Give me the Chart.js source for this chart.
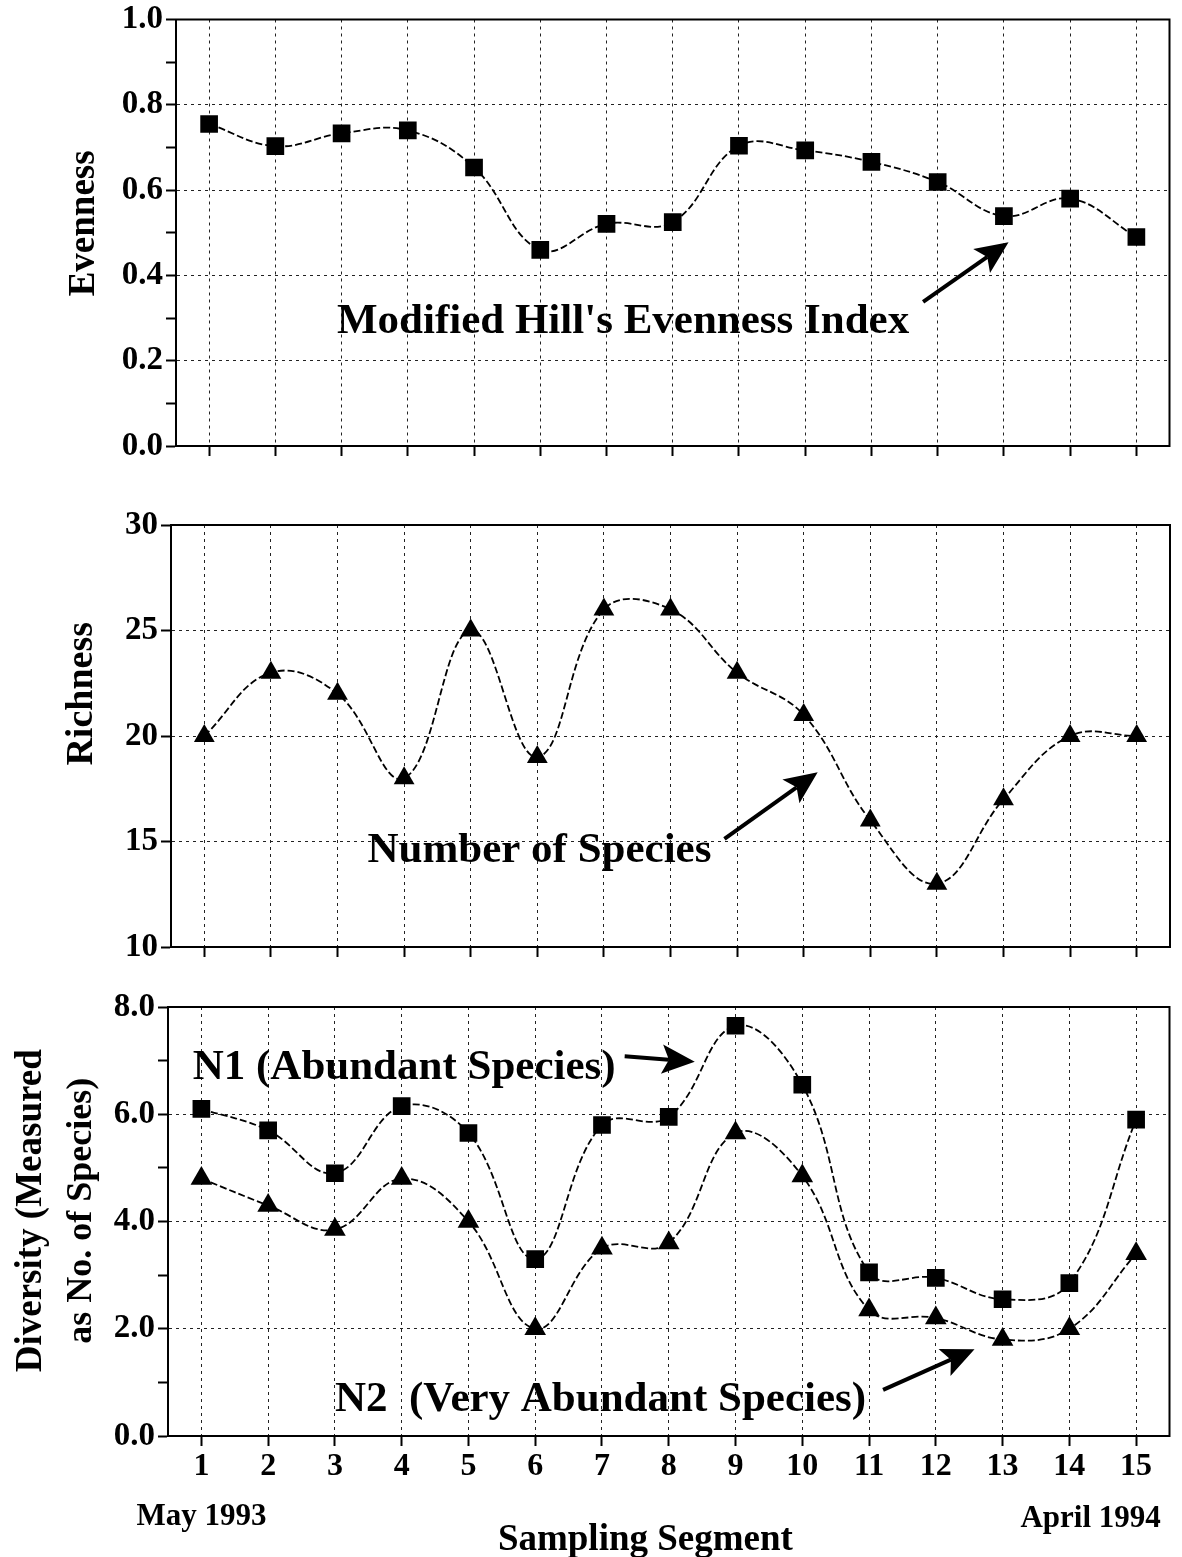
<!DOCTYPE html>
<html>
<head>
<meta charset="utf-8">
<script src="https://cdn.jsdelivr.net/npm/chart.js@4.4.1/dist/chart.umd.min.js"></script>
<style>
  html, body { margin: 0; padding: 0; background: #fff; }
  #page { position: relative; width: 1182px; height: 1557px; overflow: hidden; background: #fff; }
  .panel { position: absolute; left: 0; width: 1182px; }
</style>
</head>
<body>
<div id="page">
  <div class="panel" style="top:0;height:480px"><canvas id="evenChart"></canvas></div>
  <div class="panel" style="top:480px;height:500px"><canvas id="richChart"></canvas></div>
  <div class="panel" style="top:980px;height:577px"><canvas id="divChart"></canvas></div>
</div>
<script>
// sampling segments, May 1993 .. April 1994
const segments = [1, 2, 3, 4, 5, 6, 7, 8, 9, 10, 11, 12, 13, 14, 15];

const evenness = [0.755, 0.703, 0.733, 0.740, 0.653, 0.460, 0.521, 0.525, 0.704, 0.693, 0.666, 0.619, 0.539, 0.580, 0.490];
const richness = [20, 23, 22, 18, 25, 19, 26, 26, 23, 21, 16, 13, 17, 20, 20];
const n1Abundant = [6.10, 5.70, 4.90, 6.15, 5.65, 3.30, 5.80, 5.95, 7.65, 6.55, 3.05, 2.95, 2.55, 2.85, 5.90];
const n2VeryAbundant = [4.80, 4.30, 3.85, 4.80, 4.00, 2.00, 3.50, 3.60, 5.65, 4.85, 2.35, 2.20, 1.80, 2.00, 3.40];

// y axis ticks: labelled values, their text, and unlabelled minor ticks
const evennessTicks = [0, 0.2, 0.4, 0.6, 0.8, 1.0];
const evennessTickLabels = ['0.0', '0.2', '0.4', '0.6', '0.8', '1.0'];
const evennessMinor = [0.1, 0.3, 0.5, 0.7, 0.9];
const richnessTicks = [10, 15, 20, 25, 30];
const richnessTickLabels = ['10', '15', '20', '25', '30'];
const diversityTicks = [0, 2, 4, 6, 8];
const diversityTickLabels = ['0.0', '2.0', '4.0', '6.0', '8.0'];
const diversityMinor = [1, 3, 5, 7];

const serif = '"Liberation Serif", "Times New Roman", Times, serif';
Chart.defaults.font.family = serif;
Chart.defaults.font.weight = 'bold';
Chart.defaults.color = '#000';

// frame around the plot, free text and arrows placed in data units
function notes(labels, arrows) {
  return {
    id: 'notes',
    afterDraw(chart) {
      const {ctx, chartArea: a, scales} = chart;
      const px = v => scales.x.getPixelForValue(v);
      const py = v => scales.y.getPixelForValue(v);
      ctx.save();
      ctx.strokeStyle = '#000';
      ctx.lineWidth = 2;
      ctx.strokeRect(a.left, a.top, a.right - a.left, a.bottom - a.top);
      ctx.fillStyle = '#000';
      ctx.textBaseline = 'alphabetic';
      labels.forEach(l => {
        ctx.save();
        ctx.font = 'bold ' + l.size + 'px ' + serif;
        ctx.translate(px(l.x), py(l.y));
        if (l.vertical) ctx.rotate(-Math.PI / 2);
        ctx.textAlign = l.align || 'left';
        ctx.fillText(l.text, 0, 0);
        ctx.restore();
      });
      arrows.forEach(ar => {
        const x0 = px(ar.from[0]), y0 = py(ar.from[1]);
        const x1 = px(ar.to[0]), y1 = py(ar.to[1]);
        const ang = Math.atan2(y1 - y0, x1 - x0);
        const len = 36, spread = 0.42;
        const nx = x1 - Math.cos(ang) * len * 0.72, ny = y1 - Math.sin(ang) * len * 0.72;
        ctx.lineWidth = 4;
        ctx.beginPath();
        ctx.moveTo(x0, y0);
        ctx.lineTo(nx, ny);
        ctx.stroke();
        ctx.beginPath();
        ctx.moveTo(x1, y1);
        ctx.lineTo(x1 - Math.cos(ang - spread) * len, y1 - Math.sin(ang - spread) * len);
        ctx.lineTo(nx, ny);
        ctx.lineTo(x1 - Math.cos(ang + spread) * len, y1 - Math.sin(ang + spread) * len);
        ctx.closePath();
        ctx.fill();
      });
      ctx.restore();
    }
  };
}

function series(values, style, radius) {
  return {
    data: values,
    borderColor: '#000',
    borderWidth: 1.8,
    borderDash: [7, 3],
    tension: 0.4,
    fill: false,
    pointStyle: style,
    pointRadius: radius,
    pointBackgroundColor: '#000',
    pointBorderWidth: 0
  };
}

function makePanel(id, cfg) {
  const allY = cfg.yTicks.concat(cfg.yMinor || []).sort((p, q) => p - q);
  return new Chart(document.getElementById(id), {
    type: 'line',
    data: { labels: segments, datasets: cfg.datasets },
    options: {
      responsive: true,
      maintainAspectRatio: false,
      animation: false,
      layout: { padding: { top: cfg.top, right: cfg.right, left: 0, bottom: 0 } },
      plugins: { legend: { display: false }, tooltip: { enabled: false } },
      scales: {
        x: {
          type: 'linear',
          min: 0.5,
          max: 15.5,
          afterBuildTicks: axis => { axis.ticks = segments.map(v => ({ value: v })); },
          afterFit: axis => { axis.height = cfg.xHeight; },
          ticks: { display: cfg.xLabels, font: { size: 32, lineHeight: 1 }, padding: 5, callback: v => String(v) },
          grid: { color: '#222', lineWidth: 1, tickLength: 10, tickColor: '#000', tickWidth: 2 },
          border: { color: '#000', width: 2, dash: [3, 4] }
        },
        y: {
          min: cfg.yTicks[0],
          max: cfg.yTicks[cfg.yTicks.length - 1],
          afterBuildTicks: axis => { axis.ticks = allY.map(v => ({ value: v })); },
          afterFit: axis => { axis.width = cfg.left; },
          ticks: {
            font: { size: 33, lineHeight: 1 },
            padding: 3,
            autoSkip: false,
            callback: v => {
              const i = cfg.yTicks.indexOf(v);
              return i >= 0 ? cfg.yTickLabels[i] : '';
            }
          },
          grid: {
            color: c => {
              const v = c.tick ? c.tick.value : null;
              const inner = cfg.yTicks.indexOf(v) > 0 && cfg.yTicks.indexOf(v) < cfg.yTicks.length - 1;
              return inner ? '#222' : 'rgba(0,0,0,0)';
            },
            lineWidth: 1,
            tickLength: 10,
            tickColor: '#000',
            tickWidth: 2
          },
          border: { color: '#000', width: 2, dash: [3, 4] }
        }
      }
    },
    plugins: [notes(cfg.labels, cfg.arrows)]
  });
}

makePanel('evenChart', {
  top: 19, right: 6, left: 176, xHeight: 34, xLabels: false,
  yTicks: evennessTicks, yTickLabels: evennessTickLabels, yMinor: evennessMinor,
  datasets: [series(evenness, 'rect', 12.5)],
  labels: [
    { text: 'Evenness', x: -0.745, y: 0.522, size: 37, vertical: true, align: 'center' },
    { text: "Modified Hill's Evenness Index", x: 2.93, y: 0.265, size: 43 }
  ],
  arrows: [{ from: [11.78, 0.338], to: [13.07, 0.478] }]
});

makePanel('richChart', {
  top: 45, right: 5, left: 171, xHeight: 33, xLabels: false,
  yTicks: richnessTicks, yTickLabels: richnessTickLabels,
  datasets: [series(richness, 'triangle', 12)],
  labels: [
    { text: 'Richness', x: -0.68, y: 22.0, size: 38, vertical: true, align: 'center' },
    { text: 'Number of Species', x: 3.45, y: 14.04, size: 43 }
  ],
  arrows: [{ from: [8.81, 15.13], to: [10.21, 18.28] }]
});

makePanel('divChart', {
  top: 27, right: 5, left: 168, xHeight: 121, xLabels: true,
  yTicks: diversityTicks, yTickLabels: diversityTickLabels, yMinor: diversityMinor,
  datasets: [series(n1Abundant, 'rect', 12.5), series(n2VeryAbundant, 'triangle', 12.5)],
  labels: [
    { text: 'Diversity (Measured', x: -1.40, y: 4.2, size: 37, vertical: true, align: 'center' },
    { text: 'as No. of Species)', x: -0.66, y: 4.2, size: 36, vertical: true, align: 'center' },
    { text: 'N1 (Abundant Species)', x: 0.87, y: 6.65, size: 43 },
    { text: 'N2  (Very Abundant Species)', x: 3.0, y: 0.47, size: 43 },
    { text: 'May 1993', x: 1, y: -1.66, size: 31, align: 'center' },
    { text: 'April 1994', x: 15.37, y: -1.70, size: 31, align: 'right' },
    { text: 'Sampling Segment', x: 7.65, y: -2.13, size: 37, align: 'center' }
  ],
  arrows: [
    { from: [7.34, 7.08], to: [8.39, 6.98] },
    { from: [11.21, 0.86], to: [12.58, 1.62] }
  ]
});
</script>
</body>
</html>
